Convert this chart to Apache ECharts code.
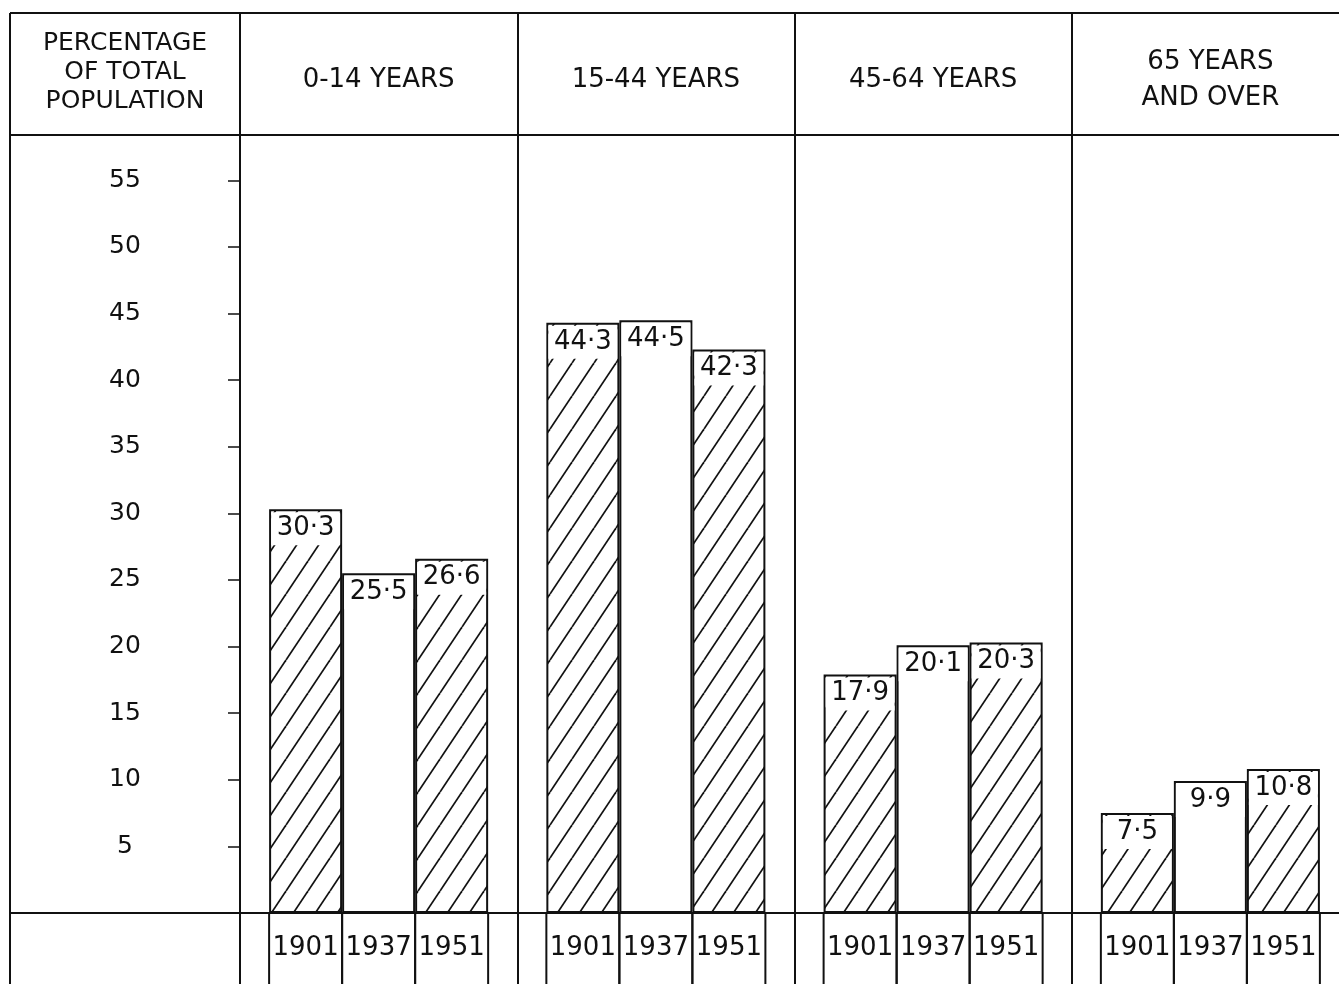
<!DOCTYPE html>
<html>
<head>
<meta charset="utf-8">
<script src="https://cdn.jsdelivr.net/npm/echarts@6/dist/echarts.min.js"></script>
<style>
  html, body { margin: 0; padding: 0; background: #fff; }
  #chart { width: 1339px; height: 984px; }
</style>
</head>
<body>
<div id="chart"></div>
<script>
// age groups (column headers) and census years
var categories = ['0-14 YEARS', '15-44 YEARS', '45-64 YEARS', '65 YEARS\nAND OVER'];
var years = ['1901', '1937', '1951'];

// percentage of total population, one array per census
var values1901 = [30.3, 44.3, 17.9, 7.5];
var values1937 = [25.5, 44.5, 20.1, 9.9];
var values1951 = [26.6, 42.3, 20.3, 10.8];

var yTitle = 'PERCENTAGE\nOF TOTAL\nPOPULATION';

var FONT = 'DejaVu Sans';
var INK = '#111';
var GAP = 0.21; // barCategoryGap as a fraction

// diagonal hatching "/" used for 1901 and 1951
function hatchTile() {
    var c = document.createElement('canvas');
    c.width = 22;
    c.height = 33;
    var ctx = c.getContext('2d');
    ctx.fillStyle = '#fff';
    ctx.fillRect(0, 0, 22, 33);
    ctx.strokeStyle = INK;
    ctx.lineWidth = 1.7;
    [-22, 0, 22].forEach(function (dx) {
        ctx.beginPath();
        ctx.moveTo(dx, 33);
        ctx.lineTo(dx + 22, 0);
        ctx.stroke();
    });
    return c;
}
var hatch = { image: hatchTile(), repeat: 'repeat' };

function valueLabel() {
    return {
        show: true,
        position: 'insideTop',
        distance: 3,
        color: INK,
        fontFamily: FONT,
        fontSize: 26,
        backgroundColor: '#fff',
        width: 69,
        align: 'center',
        padding: [3, 0, 4, 0],
        formatter: function (p) {
            return p.value.toFixed(1).replace('.', '·');
        }
    };
}

function barSeries(name, data, fill) {
    return {
        type: 'bar',
        name: name,
        data: data,
        barGap: 0,
        barCategoryGap: (GAP * 100) + '%',
        itemStyle: { color: fill, borderColor: INK, borderWidth: 2 },
        label: valueLabel(),
        silent: true,
        z: 3
    };
}

// year boxes under the baseline, placed with the category scale
var yearCells = [];
categories.forEach(function (c, g) {
    years.forEach(function (y, k) { yearCells.push([g, k]); });
});

var chart = echarts.init(document.getElementById('chart'));

chart.setOption({
    animation: false,
    backgroundColor: '#fff',
    grid: { left: 240, right: -10, top: 135, bottom: 71, outerBoundsMode: 'none', containLabel: false },
    xAxis: [{
        type: 'category',
        data: categories,
        position: 'bottom',
        axisLine: { lineStyle: { color: INK, width: 2 } },
        axisTick: { show: true, length: 80, lineStyle: { color: INK, width: 2 } },
        axisLabel: { show: false },
        splitLine: { show: true, lineStyle: { color: INK, width: 2 } }
    }, {
        type: 'category',
        data: categories,
        position: 'top',
        axisLine: { lineStyle: { color: INK, width: 2 } },
        axisTick: { show: true, length: 122, lineStyle: { color: INK, width: 2 } },
        axisLabel: {
            color: INK, fontFamily: FONT, fontSize: 26, lineHeight: 36,
            margin: 55, verticalAlign: 'middle', align: 'center'
        }
    }],
    yAxis: {
        type: 'value',
        min: 0,
        max: 58.4,
        interval: 5,
        axisLine: { show: true, lineStyle: { color: INK, width: 2 } },
        axisTick: { show: true, length: 12, lineStyle: { color: INK, width: 1.5 } },
        axisLabel: {
            color: INK, fontFamily: FONT, fontSize: 25,
            align: 'center', margin: 115,
            showMaxLabel: false,
            formatter: function (v) { return v === 0 || v % 5 !== 0 ? '' : String(v); }
        },
        splitLine: { show: false }
    },
    graphic: [
        // outer frame and left column rules
        { type: 'line', shape: { x1: 10, y1: 13, x2: 1339, y2: 13 }, style: { stroke: INK, lineWidth: 2 } },
        { type: 'line', shape: { x1: 10, y1: 13, x2: 10, y2: 984 }, style: { stroke: INK, lineWidth: 2 } },
        { type: 'line', shape: { x1: 10, y1: 135, x2: 240, y2: 135 }, style: { stroke: INK, lineWidth: 2 } },
        { type: 'line', shape: { x1: 10, y1: 913, x2: 240, y2: 913 }, style: { stroke: INK, lineWidth: 2 } },
        {
            type: 'text', x: 125, y: 72,
            style: {
                text: yTitle, fill: INK, font: '25px "' + FONT + '"',
                align: 'center', verticalAlign: 'middle', lineHeight: 29
            }
        }
    ],
    series: [
        barSeries(years[0], values1901, hatch),
        barSeries(years[1], values1937, '#fff'),
        barSeries(years[2], values1951, hatch),
        {
            type: 'custom',
            data: yearCells,
            clip: false,
            silent: true,
            z: 4,
            renderItem: function (params, api) {
                var g = api.value(0), k = api.value(1);
                var base = api.coord([g, 0]);
                var band = api.size([1, 0])[0];
                var bw = band * (1 - GAP) / 3;
                var x0 = base[0] - 1.5 * bw + k * bw;
                var y0 = base[1];
                var ls = { stroke: INK, lineWidth: 2 };
                return {
                    type: 'group',
                    children: [
                        { type: 'line', shape: { x1: x0, y1: y0, x2: x0, y2: y0 + 80 }, style: ls },
                        { type: 'line', shape: { x1: x0 + bw, y1: y0, x2: x0 + bw, y2: y0 + 80 }, style: ls },
                        {
                            type: 'text',
                            style: {
                                text: years[k], x: x0 + bw / 2, y: y0 + 35,
                                align: 'center', verticalAlign: 'middle',
                                fill: INK, font: '26px "' + FONT + '"'
                            }
                        }
                    ]
                };
            }
        }
    ]
});
</script>
</body>
</html>
